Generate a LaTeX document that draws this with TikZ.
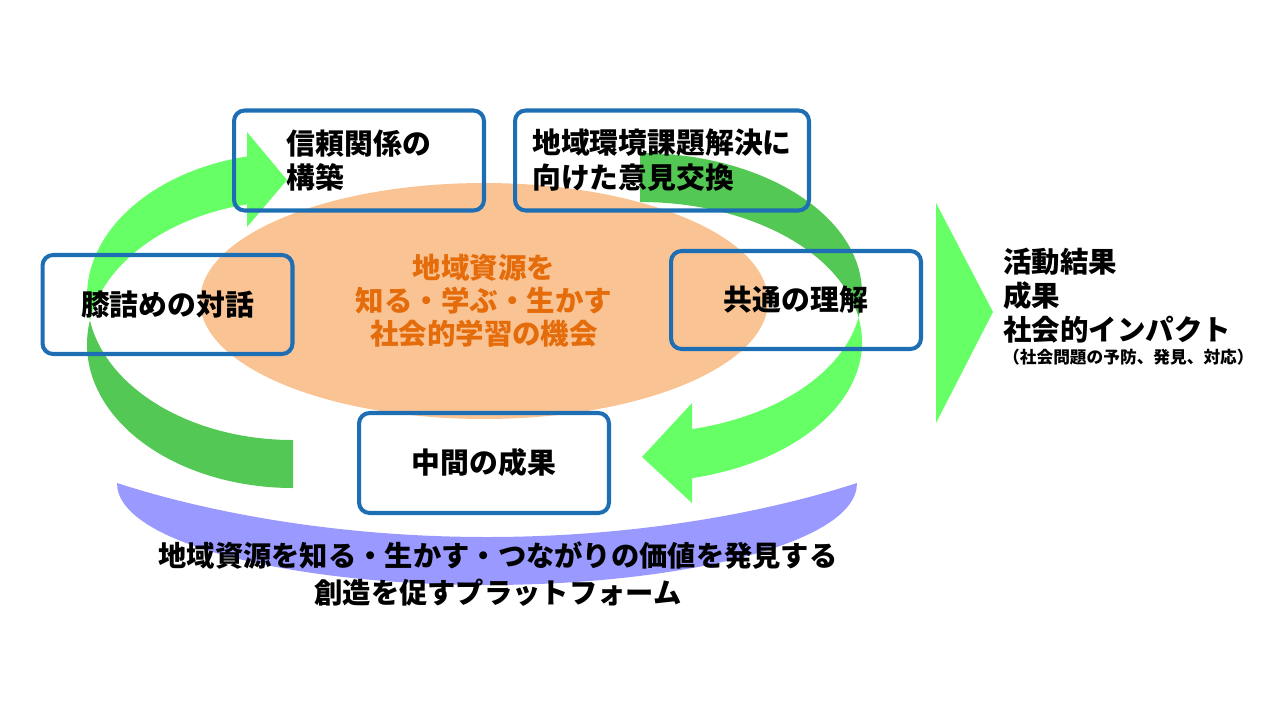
\documentclass[tikz,border=0pt]{standalone}
\usepackage{fontspec}
\setmainfont{Noto Sans CJK JP}
\usepackage{tikz}
\usetikzlibrary{shapes.geometric}

\definecolor{boxblue}{RGB}{30,110,180}
\definecolor{peach}{RGB}{250,195,148}
\definecolor{learnorange}{RGB}{228,108,10}
\definecolor{arrowlight}{RGB}{102,255,102}
\definecolor{arrowdark}{RGB}{84,200,84}
\definecolor{platformblue}{RGB}{153,153,255}

\tikzset{
  topic/.style={draw=boxblue, line width=2.3pt, rounded corners=6pt,
    minimum width=5cm, minimum height=2cm, align=left, inner sep=0pt,
    font=\bfseries\fontsize{16.4pt}{19.8pt}\selectfont},
}

\begin{document}
\begin{tikzpicture}[x=0.02cm, y=0.02cm]
\useasboundingbox (0,0) rectangle (1280,-720);

% learning opportunity
\node[ellipse, fill=peach, minimum width=11.36cm, minimum height=4.72cm, align=center,
  text=learnorange, font=\bfseries\fontsize{16.2pt}{18.7pt}\selectfont]
  (learning) at (484,-301) {地域資源を\\知る・学ぶ・生かす\\社会的学習の機会};

% platform band
\fill[platformblue] (117,-483) .. controls (117,-545) and (300,-585) .. (487,-585)
  .. controls (674,-585) and (857,-545) .. (857,-483)
  .. controls (774,-510) and (644,-537) .. (487,-537)
  .. controls (330,-537) and (200,-510) .. (117,-483) -- cycle;

% left loop
\fill[arrowdark] (293,-488) arc[start angle=270, end angle=170.38, x radius=206, y radius=143.6]
  arc[start angle=189.62, end angle=270, x radius=206, y radius=143.6] -- cycle;
\fill[arrowlight] (247,-132) -- (287,-180) -- (247,-227) -- (247,-204.4)
  arc[start angle=102.9, end angle=170.38, x radius=206, y radius=143.6]
  arc[start angle=189.62, end angle=102.9, x radius=206, y radius=143.6] -- cycle;

% right loop
\fill[arrowdark] (640,-153) arc[start angle=90, end angle=-10.08, x radius=222, y radius=140]
  arc[start angle=10.08, end angle=90, x radius=222, y radius=140] -- cycle;
\fill[arrowlight] (692,-429.1) arc[start angle=-76.45, end angle=-10.08, x radius=222, y radius=140]
  arc[start angle=10.08, end angle=-76.45, x radius=222, y radius=140]
  -- (692,-503) -- (642,-457) -- (692,-403) -- cycle;

% outcome arrow
\fill[arrowlight] (936,-203) -- (993,-312) -- (936,-423) -- cycle;

\node[topic] (trust) at (359,-160.5) {信頼関係の\\構築};
\node[topic, minimum width=5.88cm] (exchange) at (662,-160.5) {地域環境課題解決に\\向けた意見交換};
\node[topic, minimum height=1.98cm] (dialogue) at (167.5,-304.5) {膝詰めの対話};
\node[topic, minimum height=1.96cm] (common) at (796,-300) {共通の理解};
\node[topic] (interim) at (484,-463) {中間の成果};

\node[anchor=west, align=left, font=\bfseries\fontsize{16.2pt}{19.3pt}\selectfont]
  (impact) at (997,-296) {活動結果\\成果\\社会的インパクト};
\node[anchor=west, font=\bfseries\fontsize{9.5pt}{11pt}\selectfont]
  (impactnote) at (997,-357) {（社会問題の予防、発見、対応）};

\node[align=center, font=\bfseries\fontsize{16.1pt}{21.5pt}\selectfont]
  (platform) at (498,-574) {地域資源を知る・生かす・つながりの価値を発見する\\創造を促すプラットフォーム};

\end{tikzpicture}
\end{document}
